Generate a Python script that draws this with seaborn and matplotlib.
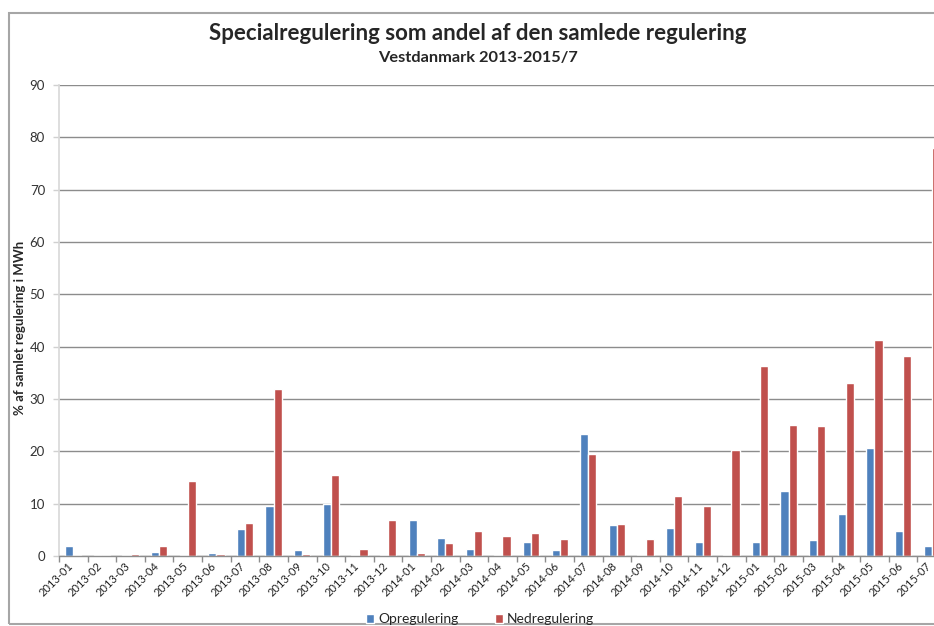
import numpy as np
import pandas as pd
import matplotlib
matplotlib.use("Agg")
import matplotlib.pyplot as plt
from matplotlib.patches import Rectangle
import seaborn as sns

# Data
maaneder = ["2013-01", "2013-02", "2013-03", "2013-04", "2013-05", "2013-06",
            "2013-07", "2013-08", "2013-09", "2013-10", "2013-11", "2013-12",
            "2014-01", "2014-02", "2014-03", "2014-04", "2014-05", "2014-06",
            "2014-07", "2014-08", "2014-09", "2014-10", "2014-11", "2014-12",
            "2015-01", "2015-02", "2015-03", "2015-04", "2015-05", "2015-06",
            "2015-07"]
opregulering = [1.9, 0.1, 0.1, 0.7, 0.1, 0.6, 5.1, 9.5, 1.2, 10.0, 0.1, 0.1,
                6.8, 3.5, 1.3, 0.1, 2.6, 1.2, 23.3, 5.9, 0.2, 5.35, 2.6, 0.2,
                2.7, 12.5, 3.1, 8.0, 20.7, 4.7, 1.9]
nedregulering = [0.2, 0.1, 0.3, 1.9, 14.3, 0.4, 6.4, 31.9, 0.3, 15.4, 1.3, 6.8,
                 0.6, 2.4, 4.8, 3.8, 4.3, 3.3, 19.5, 6.05, 3.2, 11.4, 9.6, 20.3,
                 36.4, 25.0, 24.9, 33.1, 41.2, 38.2, 78.0]
serier = ["Opregulering", "Nedregulering"]
farver = ["#4F81BD", "#C0504D"]
y_ticks = list(range(0, 91, 10))

df = pd.DataFrame({
    "maaned": maaneder * 2,
    "vaerdi": opregulering + nedregulering,
    "serie": [serier[0]] * len(maaneder) + [serier[1]] * len(maaneder),
})

sns.set_theme(style="white")
plt.rcParams["font.family"] = ["Lato", "DejaVu Sans"]

W, H = 934, 626
fig = plt.figure(figsize=(W / 100, H / 100), dpi=100)
fig.patch.set_facecolor("white")

# plot area runs past the right edge, like the cropped original
ax = fig.add_axes([59 / W, (H - 556) / H, 887 / W, 471 / H])

sns.barplot(data=df, x="maaned", y="vaerdi", hue="serie", palette=farver,
            width=0.57, gap=0, saturation=1, ax=ax)

ax.set_ylim(0, 90)
ax.set_xlim(-0.5, len(maaneder) - 0.5)
ax.set_yticks(y_ticks)
ax.set_yticklabels([str(t) for t in y_ticks])
ax.yaxis.grid(True, color="#8c8c8c", linewidth=1)
ax.set_axisbelow(True)

# tick marks between categories; labels a little left of the centres
ax.set_xticks(np.arange(len(maaneder)) - 0.2)
ax.set_xticklabels(maaneder, rotation=45, ha="right", rotation_mode="anchor",
                   fontsize=8, color="#222222")
ax.set_xticks(np.arange(-0.5, len(maaneder), 1), minor=True)
ax.tick_params(axis="x", which="major", length=0, pad=3)
ax.tick_params(axis="x", which="minor", length=4, width=1, color="#8c8c8c",
               direction="out", bottom=True)
ax.tick_params(axis="y", length=4, width=1, color="#d0d0d0", direction="out",
               left=True, pad=6, labelsize=9.5, labelcolor="#333333")

for side in ["top", "right"]:
    ax.spines[side].set_visible(False)
ax.spines["left"].set_color("#d9d9d9")
ax.spines["bottom"].set_color("#8c8c8c")
ax.spines["bottom"].set_linewidth(1)

ax.set_xlabel("")
ax.set_ylabel("")

handles, labels = ax.get_legend_handles_labels()
ax.get_legend().remove()
fig.legend(handles, labels, loc="center", bbox_to_anchor=(480 / W, 1 - 619 / H),
           ncol=2, frameon=False, fontsize=10, handlelength=0.6,
           handleheight=0.6, handletextpad=0.3, columnspacing=2.6)

fig.text(20 / W, 1 - 328 / H, "% af samlet regulering i MWh", rotation=90,
         ha="center", va="center", fontsize=9.5, fontweight="bold")
fig.text(478 / W, 1 - 33 / H, "Specialregulering som andel af den samlede regulering",
         ha="center", va="center", fontsize=16, fontweight="bold")
fig.text(478 / W, 1 - 58 / H, "Vestdanmark 2013-2015/7",
         ha="center", va="center", fontsize=11.8, fontweight="bold")

# chart area border
fig.patches.append(Rectangle((9 / W, 1 - 624 / H), 1.2, (624 - 13) / H,
                             transform=fig.transFigure, fill=False,
                             edgecolor="#a6a6a6", linewidth=1.5))

fig.savefig("out.png", dpi=100)
